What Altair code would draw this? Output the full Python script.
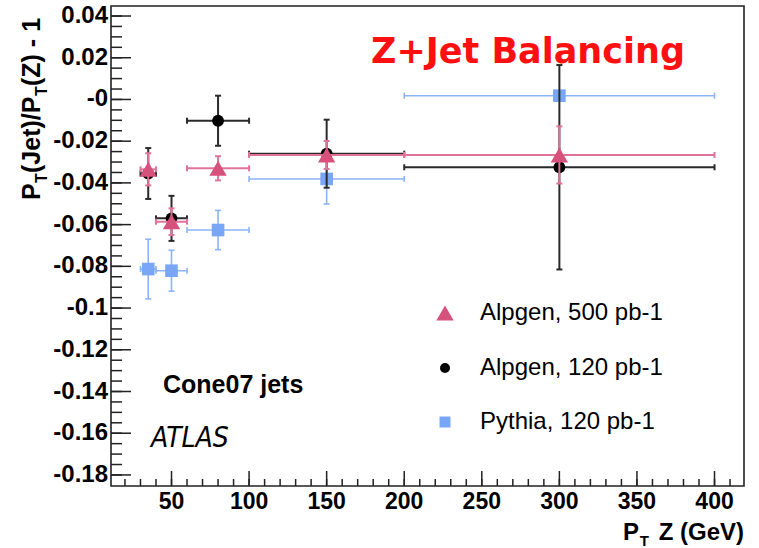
import altair as alt
import pandas as pd

# ---------------- data ----------------
pt_center = [35, 50, 80, 150, 300]
pt_lo = [30, 40, 60, 100, 200]
pt_hi = [40, 60, 100, 200, 400]

alp500_y = [-0.0335, -0.0586, -0.033, -0.0266, -0.0266]
alp500_err = [0.0077, 0.0064, 0.0058, 0.0067, 0.0137]
alp120_y = [-0.0355, -0.057, -0.0102, -0.026, -0.0325]
alp120_err = [0.0122, 0.0108, 0.012, 0.0163, 0.049]
pythia_y = [-0.0813, -0.0821, -0.0626, -0.0381, 0.0018]
pythia_err = [0.0143, 0.0098, 0.0094, 0.012, 0.0]

series_names = ["Alpgen, 500 pb-1", "Alpgen, 120 pb-1", "Pythia, 120 pb-1"]

y_major_ticks = [-0.18, -0.16, -0.14, -0.12, -0.1, -0.08, -0.06, -0.04, -0.02, 0.0, 0.02, 0.04]
y_tick_labels = ["-0.18", "-0.16", "-0.14", "-0.12", "-0.1", "-0.08", "-0.06", "-0.04", "-0.02", "-0", "0.02", "0.04"]
y_minor_ticks = [round(-0.18 + 0.005 * i, 3) for i in range(45)]
x_major_ticks = [50, 100, 150, 200, 250, 300, 350, 400]
x_tick_labels = ["50", "100", "150", "200", "250", "300", "350", "400"]
x_minor_ticks = [20 + 10 * i for i in range(40)]

# ---------------- layout ----------------
W, H = 633, 480
LEFT, TOP = 111, 6
XDOM = [11, 419]
YDOM = [-0.1853, 0.0448]
FONT = "Liberation Sans"
xs = alt.Scale(domain=XDOM, nice=False, zero=False)
ys = alt.Scale(domain=YDOM, nice=False, zero=False)

styles = {
    "Alpgen, 500 pb-1": dict(shape="triangle-up", mcol="#d6527c", lcol="#e07398", size=300, lw=2.0),
    "Alpgen, 120 pb-1": dict(shape="circle", mcol="#000000", lcol="#2a2a2a", size=140, lw=2.0),
    "Pythia, 120 pb-1": dict(shape="square", mcol="#7aa6f7", lcol="#8cb3f7", size=160, lw=1.6),
}
values = {
    "Alpgen, 500 pb-1": (alp500_y, alp500_err),
    "Alpgen, 120 pb-1": (alp120_y, alp120_err),
    "Pythia, 120 pb-1": (pythia_y, pythia_err),
}

rows = []
for s in series_names:
    yv, ye = values[s]
    for i in range(len(pt_center)):
        rows.append(dict(series=s, x=pt_center[i], xlo=pt_lo[i], xhi=pt_hi[i],
                         y=yv[i], ylo=yv[i] - ye[i], yhi=yv[i] + ye[i], err=ye[i]))
df = pd.DataFrame(rows)

layers = []

# tick labels (text marks positioned through the scales)
layers.append(alt.Chart(pd.DataFrame({"v": y_major_ticks, "t": y_tick_labels})).mark_text(
    font=FONT, fontWeight="bold", fontSize=24, align="right", baseline="middle", color="black", dx=-3).encode(
    y=alt.Y("v:Q", scale=ys, axis=None), x=alt.value(0), text="t:N"))
layers.append(alt.Chart(pd.DataFrame({"v": x_major_ticks, "t": x_tick_labels})).mark_text(
    font=FONT, fontWeight="bold", fontSize=23, align="center", baseline="top", color="black").encode(
    x=alt.X("v:Q", scale=xs, axis=None), y=alt.value(H + 5), text="t:N"))

# tick marks (inside the frame, ROOT style)
tick_col = "#222222"
layers.append(alt.Chart(pd.DataFrame({"v": y_minor_ticks})).mark_rule(color=tick_col, strokeWidth=1.5).encode(
    y=alt.Y("v:Q", scale=ys, axis=None), x=alt.value(0), x2=alt.value(11)))
layers.append(alt.Chart(pd.DataFrame({"v": y_major_ticks})).mark_rule(color=tick_col, strokeWidth=1.5).encode(
    y=alt.Y("v:Q", scale=ys, axis=None), x=alt.value(0), x2=alt.value(20)))
layers.append(alt.Chart(pd.DataFrame({"v": x_minor_ticks})).mark_rule(color=tick_col, strokeWidth=1.5).encode(
    x=alt.X("v:Q", scale=xs, axis=None), y=alt.value(H), y2=alt.value(H - 7)))
layers.append(alt.Chart(pd.DataFrame({"v": x_major_ticks})).mark_rule(color=tick_col, strokeWidth=1.5).encode(
    x=alt.X("v:Q", scale=xs, axis=None), y=alt.value(H), y2=alt.value(H - 15)))

# data series, drawn Pythia first, Alpgen 500 last
for s in ["Pythia, 120 pb-1", "Alpgen, 120 pb-1", "Alpgen, 500 pb-1"]:
    st = styles[s]
    d = df[df.series == s]
    dv = d[d.err > 0]
    c = alt.Chart(d)
    layers.append(c.mark_rule(color=st["lcol"], strokeWidth=st["lw"]).encode(
        x=alt.X("xlo:Q", scale=xs, axis=None), x2="xhi:Q", y=alt.Y("y:Q", scale=ys, axis=None)))
    layers.append(alt.Chart(dv).mark_rule(color=st["lcol"], strokeWidth=st["lw"]).encode(
        x=alt.X("x:Q", scale=xs, axis=None), y=alt.Y("ylo:Q", scale=ys, axis=None), y2="yhi:Q"))
    for f in ["xlo", "xhi"]:
        layers.append(c.mark_tick(orient="vertical", color=st["lcol"], size=6, thickness=st["lw"], opacity=1).encode(
            x=alt.X(f + ":Q", scale=xs, axis=None), y=alt.Y("y:Q", scale=ys, axis=None)))
    for f in ["ylo", "yhi"]:
        layers.append(alt.Chart(dv).mark_tick(orient="horizontal", color=st["lcol"], size=6, thickness=st["lw"], opacity=1).encode(
            x=alt.X("x:Q", scale=xs, axis=None), y=alt.Y(f + ":Q", scale=ys, axis=None)))
    layers.append(c.mark_point(shape=st["shape"], filled=True, color=st["mcol"], size=st["size"], opacity=1).encode(
        x=alt.X("x:Q", scale=xs, axis=None), y=alt.Y("y:Q", scale=ys, axis=None)))

# legend
leg_sizes = {"Alpgen, 500 pb-1": 300, "Alpgen, 120 pb-1": 100, "Pythia, 120 pb-1": 121}
leg_rows_y = [307, 362, 416]
for s, ly in zip(series_names, leg_rows_y):
    st = styles[s]
    one = alt.Chart(pd.DataFrame({"t": [s]}))
    layers.append(one.mark_point(shape=st["shape"], filled=True, color=st["mcol"], size=leg_sizes[s], opacity=1).encode(
        x=alt.value(334), y=alt.value(ly)))
    layers.append(one.mark_text(font=FONT, fontSize=24, align="left", baseline="middle", color="black").encode(
        x=alt.value(369), y=alt.value(ly), text="t:N"))

# annotations
def txt(s, x, y, **kw):
    return alt.Chart(pd.DataFrame({"t": [s]})).mark_text(**kw).encode(x=alt.value(x), y=alt.value(y), text="t:N")

layers.append(txt("Z+Jet Balancing", 417, 46, font="DejaVu Sans", fontWeight="bold", fontSize=35,
                  color="#ff1010", align="center", baseline="middle"))
layers.append(txt("Cone07 jets", 52, 379, font=FONT, fontWeight="bold", fontSize=25,
                  color="black", align="left", baseline="middle"))
layers.append(txt("ATLAS", 40, 433, font="Liberation Sans Narrow, DejaVu Sans Condensed, sans-serif",
                  fontStyle="italic", fontSize=28, color="black", align="left", baseline="middle"))

# y-axis title pieces (rotated)
yx_main, yx_sub = 40 - LEFT, 47 - LEFT
layers.append(txt("P", yx_main, 200 - TOP, font=FONT, fontWeight="bold", fontSize=25, angle=270,
                  align="left", baseline="alphabetic", color="black"))
layers.append(txt("T", yx_sub, 183 - TOP, font=FONT, fontWeight="bold", fontSize=16, angle=270,
                  align="left", baseline="alphabetic", color="black"))
layers.append(txt("(Jet)/P", yx_main, 173 - TOP, font=FONT, fontWeight="bold", fontSize=25, angle=270,
                  align="left", baseline="alphabetic", color="black"))
layers.append(txt("T", yx_sub, 96 - TOP, font=FONT, fontWeight="bold", fontSize=16, angle=270,
                  align="left", baseline="alphabetic", color="black"))
layers.append(txt("(Z) - 1", yx_main, 86 - TOP, font=FONT, fontWeight="bold", fontSize=25, angle=270,
                  align="left", baseline="alphabetic", color="black"))

# x-axis title pieces
layers.append(txt("Z (GeV)", W, 540 - TOP, font=FONT, fontWeight="bold", fontSize=24,
                  align="right", baseline="alphabetic", color="black"))
layers.append(txt("T", W - 95, 546 - TOP, font=FONT, fontWeight="bold", fontSize=15,
                  align="right", baseline="alphabetic", color="black"))
layers.append(txt("P", W - 105, 540 - TOP, font=FONT, fontWeight="bold", fontSize=24,
                  align="right", baseline="alphabetic", color="black"))

chart = alt.layer(*layers).properties(
    width=W, height=H,
    padding={"left": LEFT, "top": TOP, "right": 759 - LEFT - W, "bottom": 548 - TOP - H},
    autosize="none",
    background="white",
).configure_view(stroke="#222222", strokeWidth=1.6)

chart.save("out.html", embed_options={"renderer": "svg", "actions": False})
